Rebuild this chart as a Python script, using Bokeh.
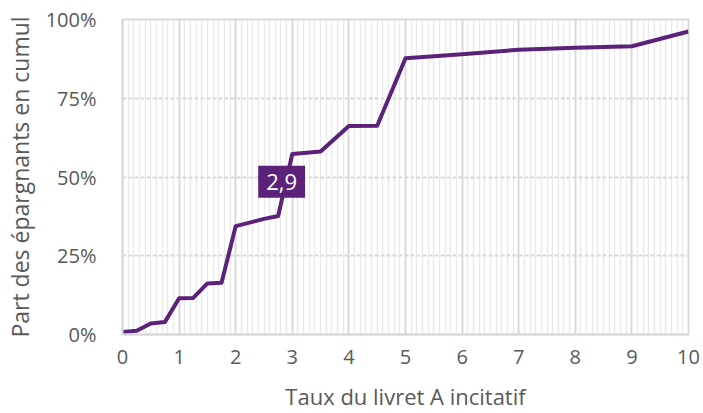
from bokeh.plotting import figure
from bokeh.models import Range1d, FixedTicker, NumeralTickFormatter, Label
from bokeh.embed import file_html
from bokeh.resources import INLINE

# Data
taux = [0, 0.25, 0.5, 0.75, 1, 1.25, 1.5, 1.75, 2, 2.5, 2.75, 3, 3.5, 4, 4.5, 5, 6, 7, 8, 9, 10]
part = [0.008, 0.012, 0.035, 0.040, 0.115, 0.116, 0.162, 0.164, 0.344, 0.367, 0.376, 0.573, 0.581, 0.662, 0.663, 0.877, 0.890, 0.904, 0.910, 0.915, 0.962]
x_ticks = [0, 1, 2, 3, 4, 5, 6, 7, 8, 9, 10]
y_ticks = [0, 0.25, 0.5, 0.75, 1.0]
label_x = 2.9
label_y = 0.485
label_text = "2,9"
x_title = "Taux du livret A incitatif"
y_title = "Part des épargnants en cumul"

PURPLE = "#5c2178"
GREY_TXT = "#595959"
GRID = "#d9d9d9"
FONT = "Open Sans"

p = figure(width=703, height=413, output_backend="svg", toolbar_location=None,
           x_range=Range1d(0, 10), y_range=Range1d(0, 1),
           min_border_left=122, min_border_top=19, min_border_right=15, min_border_bottom=79)
p.background_fill_color = "white"
p.border_fill_color = "white"
p.outline_line_color = GRID
p.outline_line_width = 2

minor = [i / 10 for i in range(0, 101) if i % 10 != 0]
p.xaxis.ticker = FixedTicker(ticks=x_ticks, minor_ticks=minor)
p.yaxis.ticker = FixedTicker(ticks=y_ticks)
p.yaxis.formatter = NumeralTickFormatter(format="0%")

p.xgrid.grid_line_color = GRID
p.xgrid.grid_line_width = 2
p.xgrid.minor_grid_line_color = "#ebebeb"
p.xgrid.minor_grid_line_width = 1.5
p.ygrid.grid_line_color = GRID
p.ygrid.grid_line_width = 2
p.ygrid.grid_line_dash = "4 2"

for ax in (p.xaxis[0], p.yaxis[0]):
    ax.axis_line_color = GRID
    ax.axis_line_width = 2
    ax.major_tick_line_color = None
    ax.minor_tick_line_color = None
    ax.major_label_text_font = FONT
    ax.major_label_text_font_size = "20px"
    ax.major_label_text_color = GREY_TXT
    ax.axis_label_text_font = FONT
    ax.axis_label_text_font_size = "23px"
    ax.axis_label_text_font_style = "normal"
    ax.axis_label_text_color = GREY_TXT

p.xaxis.axis_label = x_title
p.yaxis.axis_label = y_title
p.xaxis.axis_label_text_font_size = "22px"
p.xaxis.major_label_standoff = 9
p.xaxis.axis_label_standoff = 14
p.yaxis.major_label_standoff = 20
p.yaxis.axis_label_standoff = 7

p.line(taux, part, line_color=PURPLE, line_width=4, line_join="round")

lab = Label(x=label_x, y=label_y, text=label_text, x_offset=-5,
            text_align="center", text_baseline="middle",
            text_font=FONT, text_font_size="22px", text_color="white",
            background_fill_color=PURPLE, padding=8)
p.add_layout(lab)

open("out.html", "w").write(file_html(p, INLINE))
